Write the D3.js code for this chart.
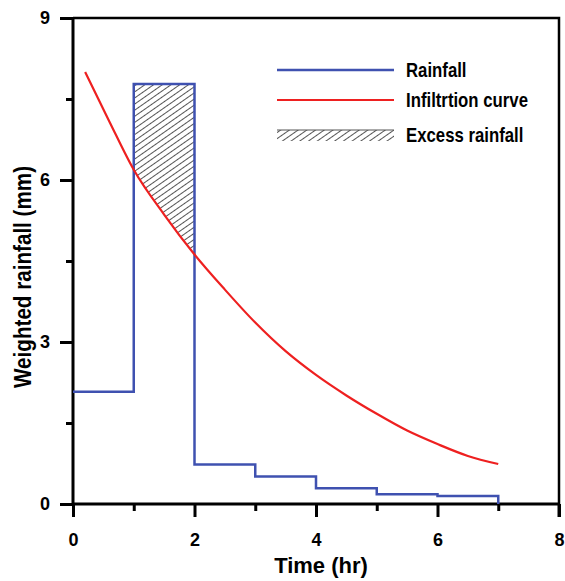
<!DOCTYPE html>
<html><head><meta charset="utf-8">
<script src="https://cdn.jsdelivr.net/npm/d3@7"></script>
<style>
body{margin:0;background:#fff;}
svg text{font-family:"Liberation Sans",Arial,sans-serif;font-weight:bold;fill:#000;}
</style></head>
<body><svg id="c" width="565" height="581"></svg>
<script>
// Rainfall step values (per hour interval)
const stepTimes = [0, 1, 2, 3, 4, 5, 6, 7];
const rainfall = [2.08, 7.78, 0.73, 0.51, 0.29, 0.18, 0.15];
// Infiltration curve points
const infTime = [0.2, 0.6, 1.0, 1.5, 2.0, 2.5, 3.0, 3.5, 4.0, 4.5, 5.0, 5.5, 6.0, 6.5, 7.0];
const infValue = [8.0, 7.08, 6.19, 5.36, 4.62, 3.97, 3.36, 2.83, 2.39, 2.01, 1.67, 1.36, 1.11, 0.89, 0.74];
const xTicks = [0, 2, 4, 6, 8];
const xMinor = [1, 3, 5, 7];
const yTicks = [0, 3, 6, 9];
const yMinor = [1.5, 4.5, 7.5];
const legendLabels = ["Rainfall", "Infiltrtion curve", "Excess rainfall"];

const svg = d3.select("#c");
const x = d3.scaleLinear().domain([0, 8]).range([73, 559]);
const y = d3.scaleLinear().domain([0, 9]).range([504, 18]);

const defs = svg.append("defs");
const pat = defs.append("pattern").attr("id", "hatch").attr("patternUnits", "userSpaceOnUse")
  .attr("width", 10).attr("height", 5).attr("patternTransform", "rotate(-35)");
pat.append("line").attr("x1", 0).attr("x2", 10).attr("y1", 2.5).attr("y2", 2.5)
  .attr("stroke", "#555").attr("stroke-width", 1);
defs.append("clipPath").attr("id", "hclip").append("rect")
  .attr("x", x(1)).attr("width", x(2) - x(1)).attr("y", y(9)).attr("height", y(0) - y(9));

const infPts = infTime.map((t, i) => [t, infValue[i]]);
const curve = d3.curveMonotoneX;

// Excess rainfall (hatched)
svg.append("path")
  .datum(infPts)
  .attr("clip-path", "url(#hclip)")
  .attr("fill", "url(#hatch)")
  .attr("d", d3.area().curve(curve).x(d => x(d[0])).y0(d => y(d[1])).y1(y(rainfall[1])));

// Frame
svg.append("path").attr("d", `M${x(0)},${y(9)}H${x(8)}V${y(0)}`)
  .attr("stroke", "#000").attr("stroke-width", 2.5).attr("fill", "none");

// Axes
const xAxis = svg.append("g").attr("transform", `translate(0,${y(0)})`)
  .call(d3.axisBottom(x).tickValues(xTicks).tickSize(13).tickPadding(16).tickFormat(d3.format("d")));
const xAxisMinor = svg.append("g").attr("transform", `translate(0,${y(0)})`)
  .call(d3.axisBottom(x).tickValues(xMinor).tickSize(7).tickFormat(""));
const yAxis = svg.append("g").attr("transform", `translate(${x(0)},0)`)
  .call(d3.axisLeft(y).tickValues(yTicks).tickSize(13).tickPadding(10).tickFormat(d3.format("d")));
const yAxisMinor = svg.append("g").attr("transform", `translate(${x(0)},0)`)
  .call(d3.axisLeft(y).tickValues(yMinor).tickSize(7).tickFormat(""));
[xAxis, xAxisMinor, yAxis, yAxisMinor].forEach(a => {
  a.select(".domain").attr("stroke-width", 3).attr("stroke", "#000");
  a.selectAll(".tick line").attr("stroke-width", 3).attr("stroke", "#000");
  a.selectAll(".tick text").style("font-size", "18px").style("font-weight", "bold")
    .style("font-family", '"Liberation Sans",Arial,sans-serif').attr("fill", "#000");
});
xAxis.select(".domain").attr("d", `M${x(0)},0H${x(8)}`);
yAxis.select(".domain").attr("d", `M0,${y(0)}V${y(9)}`);
xAxisMinor.select(".domain").remove();
yAxisMinor.select(".domain").remove();
// right border tick at 8 going down
svg.append("line").attr("x1", x(8)).attr("x2", x(8)).attr("y1", y(0)).attr("y2", y(0) + 13)
  .attr("stroke", "#000").attr("stroke-width", 3);

// Rainfall step line
const rainPts = stepTimes.map((t, i) => [t, i < rainfall.length ? rainfall[i] : rainfall[rainfall.length - 1]]);
rainPts.push([stepTimes[stepTimes.length - 1], 0]);
svg.append("path").datum(rainPts)
  .attr("fill", "none").attr("stroke", "#3f51b0").attr("stroke-width", 2.5)
  .attr("d", d3.line().curve(d3.curveStepAfter).x(d => x(d[0])).y(d => y(d[1])));

// Infiltration curve
svg.append("path").datum(infPts)
  .attr("fill", "none").attr("stroke", "#ee2020").attr("stroke-width", 2.2)
  .attr("d", d3.line().curve(curve).x(d => x(d[0])).y(d => y(d[1])));

// Axis titles
svg.append("text").attr("transform", `translate(321,573)`).attr("text-anchor", "middle")
  .style("font-size", "22px").text("Time (hr)");
svg.append("text").attr("transform", `translate(31,277) rotate(-90) scale(0.86,1)`).attr("text-anchor", "middle")
  .style("font-size", "24px").text("Weighted rainfall (mm)");

// Legend
const lx0 = 277, lx1 = 394, ly = [70, 100, 135];
svg.append("line").attr("x1", lx0).attr("x2", lx1).attr("y1", ly[0]).attr("y2", ly[0])
  .attr("stroke", "#3f51b0").attr("stroke-width", 2.5);
svg.append("line").attr("x1", lx0).attr("x2", lx1).attr("y1", ly[1]).attr("y2", ly[1])
  .attr("stroke", "#ee2020").attr("stroke-width", 2.2);
svg.append("rect").attr("x", lx0).attr("y", ly[2] - 5).attr("width", lx1 - lx0).attr("height", 11)
  .attr("fill", "url(#hatch)");
svg.append("line").attr("x1", lx0).attr("x2", lx1).attr("y1", ly[2] - 5).attr("y2", ly[2] - 5)
  .attr("stroke", "#555").attr("stroke-width", 1);
legendLabels.forEach((l, i) => {
  svg.append("text").attr("transform", `translate(406,${ly[i] + 7}) scale(0.86,1)`)
    .style("font-size", "19.5px").text(l);
});
</script></body></html>
